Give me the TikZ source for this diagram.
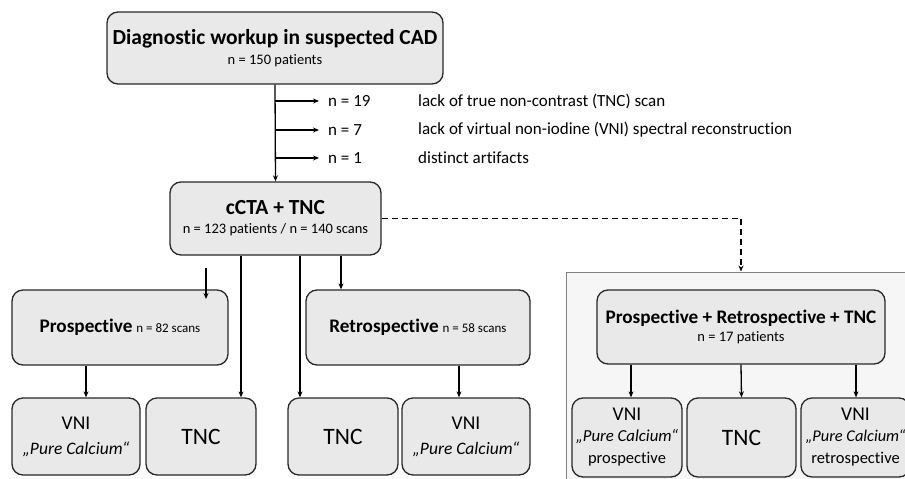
\documentclass[tikz,border=0pt]{standalone}
\usepackage{fontspec}
\setmainfont{Carlito}[Ligatures=NoCommon]
\usepackage{tikz}
\usetikzlibrary{arrows.meta}

\definecolor{boxgray}{RGB}{233,233,233}
\definecolor{framegray}{RGB}{246,246,246}
\definecolor{linegray}{RGB}{40,40,40}

\tikzset{
  box/.style={draw=linegray, line width=1.3pt, fill=boxgray, rounded corners=11pt,
    align=center, inner sep=0pt},
  frame/.style={draw=gray, line width=1pt, fill=framegray, inner sep=0pt},
  note/.style={anchor=west, inner sep=0pt, font=\fontsize{17}{20}\selectfont},
  conn/.style={line width=1.3pt, draw=black},
  vnibox/.style={box, font=\fontsize{19.5}{22}\selectfont},
  tncbox/.style={box, font=\fontsize{23.5}{26}\selectfont},
}
\newcommand{\bigtxt}[1]{{\fontsize{21.5}{25}\selectfont\bfseries #1}}
\newcommand{\midtxt}[1]{{\fontsize{19.2}{23}\selectfont\bfseries #1}}
\newcommand{\smalltxt}[1]{{\fontsize{14.5}{17}\selectfont #1}}
\newcommand{\pc}[1][17.5]{{\fontsize{#1}{20}\selectfont\itshape „Pure Calcium“}}

\begin{document}
\begin{tikzpicture}[x=1pt, y=-1pt, >={Stealth[length=6pt,width=5pt]}]
\useasboundingbox (0,0) rectangle (905,479);

% right frame
\node[frame, minimum width=346, minimum height=215] (frame) at (739,379.5) {};

% Top
\node[box, minimum width=336, minimum height=72] (top) at (275,48)
  {\bigtxt{Diagnostic workup in suspected CAD}\\[6pt]\smalltxt{n = 150 patients}};

% Exclusions
\node[note] (n19) at (328,101) {n = 19};
\node[note] (n7) at (328,130) {n = 7};
\node[note] (n1) at (328,158) {n = 1};
\node[note] (r19) at (418,101) {lack of true non-contrast (TNC) scan};
\node[note] (r7) at (418,130) {lack of virtual non-iodine (VNI) spectral reconstruction};
\node[note] (r1) at (418,158) {distinct artifacts};

% cCTA
\node[box, minimum width=211, minimum height=73] (ccta) at (275.5,218.5)
  {\bigtxt{cCTA + TNC}\\[7pt]\smalltxt{n = 123 patients / n = 140 scans}};

% Middle row
\node[box, minimum width=216, minimum height=75] (pro) at (120,327.5)
  {\midtxt{Prospective}\hspace{4pt}{\fontsize{13}{16}\selectfont n = 82 scans}};
\node[box, minimum width=224, minimum height=75] (retro) at (418,327.5)
  {\midtxt{Retrospective}\hspace{4pt}{\fontsize{13}{16}\selectfont n = 58 scans}};
\node[box, minimum width=288, minimum height=74] (prt) at (741,327)
  {\midtxt{Prospective + Retrospective + TNC}\\[4pt]\smalltxt{n = 17 patients}};

% Bottom row
\node[vnibox, minimum width=128, minimum height=77] (vni1) at (76,436.5) {VNI\\[3pt]\pc};
\node[tncbox, minimum width=110, minimum height=77] (tnc1) at (201,436.5) {TNC};
\node[tncbox, minimum width=110, minimum height=77] (tnc2) at (343,436.5) {TNC};
\node[vnibox, minimum width=128, minimum height=77] (vni2) at (466,436.5) {VNI\\[3pt]\pc};
\node[vnibox, minimum width=110, minimum height=79] (vni3) at (627,437.5)
  {VNI\\[-1pt]\pc[16.8]\\{\fontsize{16.5}{20}\selectfont prospective}};
\node[tncbox, minimum width=109, minimum height=79] (tnc3) at (741.5,437.5) {TNC};
\node[vnibox, minimum width=109, minimum height=79] (vni4) at (855.5,437.5)
  {VNI\\[-1pt]\pc[16.4]\\{\fontsize{16.5}{20}\selectfont retrospective}};

% Arrows
\coordinate (b19) at (top.south |- n19);
\coordinate (b7) at (top.south |- n7);
\coordinate (b1) at (top.south |- n1);
\draw[conn, ->] (top.south) -- (ccta.north);
\draw[conn, ->] (b19) -- ([xshift=-9pt]n19.west);
\draw[conn, ->] (b7) -- ([xshift=-9pt]n7.west);
\draw[conn, ->] (b1) -- ([xshift=-9pt]n1.west);

\coordinate (pa) at (206,268);
\coordinate (pb) at (206,299);
\draw[conn, ->] (pa) -- (pb);
\draw[conn, ->] (ccta.south -| 241,0) -- (tnc1.north -| 241,0);
\draw[conn, ->] (ccta.south -| 300,0) -- (tnc2.north -| 300,0);
\draw[conn, ->] (ccta.south -| 341,0) -- (retro.north -| 341,0);
\draw[conn, ->, dashed, dash pattern=on 6pt off 4pt] (ccta.east) -| (frame.north -| prt.north);

\draw[conn, ->] (pro.south -| 86,0) -- (vni1.north -| 86,0);
\draw[conn, ->] (retro.south -| 459,0) -- (vni2.north -| 459,0);
\draw[conn, ->] (prt.south -| 631,0) -- (vni3.north -| 631,0);
\draw[conn, ->] (prt.south) -- (tnc3.north);
\draw[conn, ->] (prt.south -| 856,0) -- (vni4.north -| 856,0);

\end{tikzpicture}
\end{document}
